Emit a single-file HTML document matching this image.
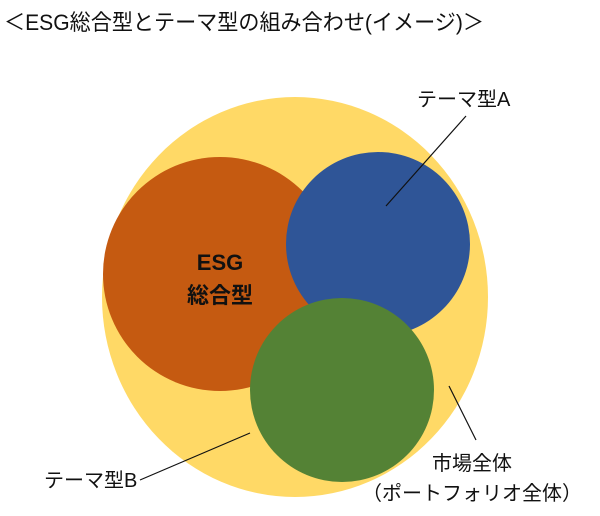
<!DOCTYPE html>
<html><head><meta charset="utf-8"><style>
body{margin:0;background:#fff;width:600px;height:511px;overflow:hidden}
svg text{font-family:"Liberation Sans","Noto Sans CJK JP",sans-serif;fill:#111}
</style></head><body>
<svg width="600" height="511" viewBox="0 0 600 511">
<text x="4" y="30" font-size="22" textLength="480" lengthAdjust="spacingAndGlyphs">＜ESG総合型とテーマ型の組み合わせ(イメージ)＞</text>
<ellipse cx="295" cy="297" rx="193" ry="200" fill="#FFD966"/>
<circle cx="220" cy="274" r="117" fill="#C55A11"/>
<circle cx="378" cy="244" r="92" fill="#2F5597"/>
<circle cx="342" cy="390" r="92" fill="#548235"/>
<text x="220" y="270" font-size="22" font-weight="bold" text-anchor="middle">ESG</text>
<text x="220" y="303" font-size="22" font-weight="bold" text-anchor="middle">総合型</text>
<text x="417" y="106" font-size="20">テーマ型A</text>
<line x1="466" y1="116" x2="386" y2="206" stroke="#111" stroke-width="1.2"/>
<text x="44" y="487" font-size="20">テーマ型B</text>
<line x1="140" y1="480" x2="250" y2="433" stroke="#111" stroke-width="1.2"/>
<line x1="449" y1="386" x2="476" y2="440" stroke="#111" stroke-width="1.2"/>
<text x="432" y="470" font-size="20">市場全体</text>
<text x="362" y="500" font-size="20">（ポートフォリオ全体）</text>
</svg>
</body></html>
